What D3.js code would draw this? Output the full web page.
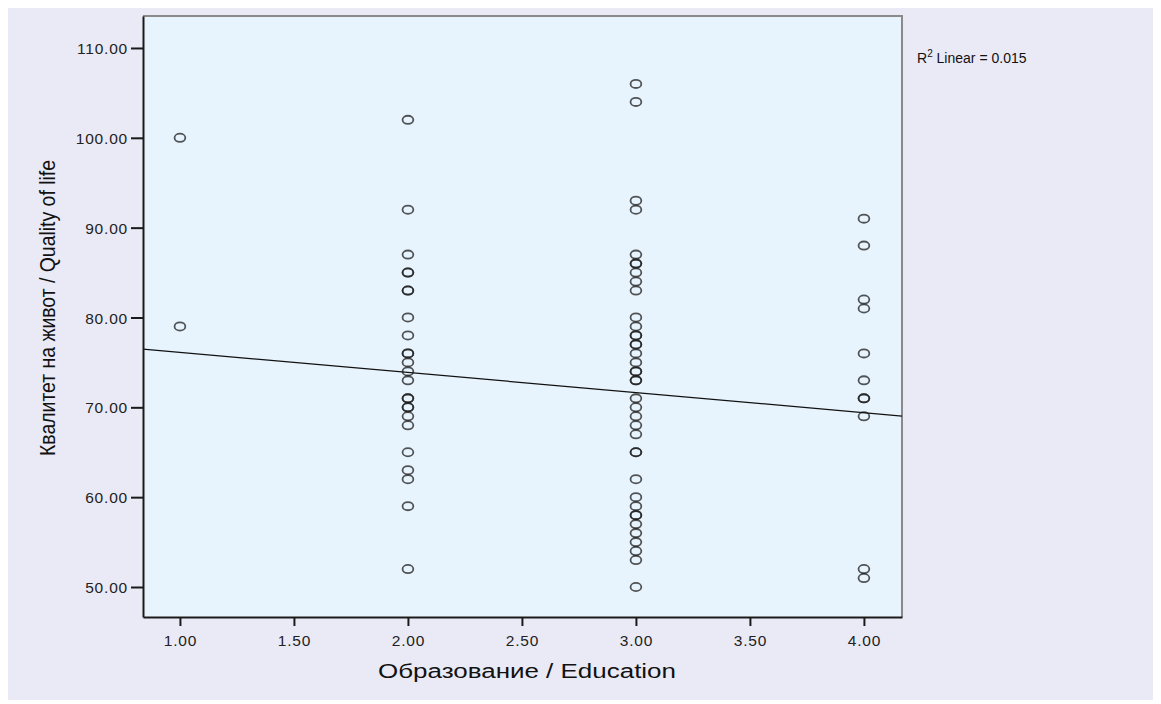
<!DOCTYPE html>
<html>
<head>
<meta charset="utf-8">
<script src="https://cdn.jsdelivr.net/npm/d3@7"></script>
<style>
  html, body { margin: 0; padding: 0; background: #ffffff; }
  svg { display: block; font-family: "Liberation Sans", Arial, sans-serif; }
</style>
</head>
<body>
<svg id="chart" width="1161" height="704"></svg>
<script>
// Education level (x) and quality-of-life scores (y) per level
const educationLevels = [1, 2, 3, 4];
const qolEdu1 = [100, 79];
const qolEdu2 = [102, 92, 87, 85, 85, 83, 83, 80, 78, 76, 76, 75, 74, 73, 71, 71, 70, 70, 69, 68, 65, 63, 62, 59, 52];
const qolEdu3 = [106, 104, 93, 92, 87, 86, 86, 85, 84, 83, 80, 79, 78, 78, 77, 77, 76, 75, 74, 74, 73, 73,
                 71, 70, 69, 68, 67, 65, 65, 62, 60, 59, 58, 58, 57, 56, 55, 54, 53, 50];
const qolEdu4 = [91, 88, 82, 81, 76, 73, 71, 71, 69, 52, 51];

// Linear fit reported with the chart
const fitIntercept = 78.36;
const fitSlope = -2.24;
const fitR2 = 0.015;

const xTicks = [1.0, 1.5, 2.0, 2.5, 3.0, 3.5, 4.0];
const yTicks = [50, 60, 70, 80, 90, 100, 110];
const xTitle = "Образование / Education";
const yTitle = "Квалитет на живот / Quality of life";

const groups = [qolEdu1, qolEdu2, qolEdu3, qolEdu4];
const points = [];
groups.forEach((vals, i) => vals.forEach(v => points.push({ x: educationLevels[i], y: v })));

const svg = d3.select("#chart");
const plot = { left: 143, right: 902, top: 16, bottom: 617 };

const x = d3.scaleLinear().domain([0.838, 4.167]).range([plot.left, plot.right]);
const y = d3.scaleLinear().domain([46.66, 113.56]).range([plot.bottom, plot.top]);

// Outer panel
svg.append("rect").attr("x", 8).attr("y", 8).attr("width", 1145).attr("height", 692)
  .attr("fill", "#eaeaf6");

// Plot area
svg.append("rect")
  .attr("x", plot.left).attr("y", plot.top)
  .attr("width", plot.right - plot.left).attr("height", plot.bottom - plot.top)
  .attr("fill", "#e8f4fd");

// Top and right frame edges
svg.append("path")
  .attr("d", `M${plot.left},${plot.top}H${plot.right}V${plot.bottom}`)
  .attr("fill", "none").attr("stroke", "#8a8a8a").attr("stroke-width", 2);

// Points
svg.append("g").selectAll("ellipse").data(points).join("ellipse")
  .attr("cx", d => x(d.x)).attr("cy", d => y(d.y))
  .attr("rx", 5.4).attr("ry", 4.1)
  .attr("fill", "none").attr("stroke", "#1e1e1e").attr("stroke-width", 1.8)
  .attr("stroke-opacity", 0.75);

// Fit line across the plot
const [x0, x1] = x.domain();
svg.append("line")
  .attr("x1", x(x0)).attr("y1", y(fitIntercept + fitSlope * x0))
  .attr("x2", x(x1)).attr("y2", y(fitIntercept + fitSlope * x1))
  .attr("stroke", "#111").attr("stroke-width", 1.2);

// Axes
const yAxis = svg.append("g").attr("transform", `translate(${plot.left},0)`)
  .call(d3.axisLeft(y).tickValues(yTicks).tickSize(12).tickSizeOuter(0).tickPadding(3)
    .tickFormat(d3.format(".2f")));
const xAxis = svg.append("g").attr("transform", `translate(0,${plot.bottom})`)
  .call(d3.axisBottom(x).tickValues(xTicks).tickSize(9).tickSizeOuter(0).tickPadding(5)
    .tickFormat(d3.format(".2f")));

[yAxis, xAxis].forEach(g => {
  g.select(".domain").attr("stroke", "#1a1a1a").attr("stroke-width", 2);
  g.selectAll(".tick line").attr("stroke", "#1a1a1a").attr("stroke-width", 2);
  g.selectAll(".tick text")
    .attr("fill", "#222").attr("font-size", 15.5).attr("letter-spacing", 0.8)
    .attr("font-family", "'Liberation Sans', Arial, sans-serif");
});
yAxis.selectAll(".tick text").attr("dy", "0.36em");
xAxis.selectAll(".tick text").attr("dy", "0.95em");

// Axis titles
svg.append("text")
  .attr("x", 527).attr("y", 678).attr("text-anchor", "middle")
  .attr("font-size", 20).attr("fill", "#111")
  .attr("textLength", 298).attr("lengthAdjust", "spacingAndGlyphs")
  .text(xTitle);

svg.append("text")
  .attr("transform", "translate(55,308) rotate(-90)")
  .attr("text-anchor", "middle")
  .attr("font-size", 22).attr("fill", "#111")
  .attr("textLength", 296).attr("lengthAdjust", "spacingAndGlyphs")
  .text(yTitle);

// R² annotation
const r2 = svg.append("text").attr("x", 917).attr("y", 63)
  .attr("font-size", 14).attr("fill", "#111");
r2.append("tspan").text("R");
r2.append("tspan").attr("font-size", 10).attr("dy", -6).text("2");
r2.append("tspan").attr("dy", 6).text(" Linear = " + d3.format(".3f")(fitR2));
</script>
</body>
</html>
